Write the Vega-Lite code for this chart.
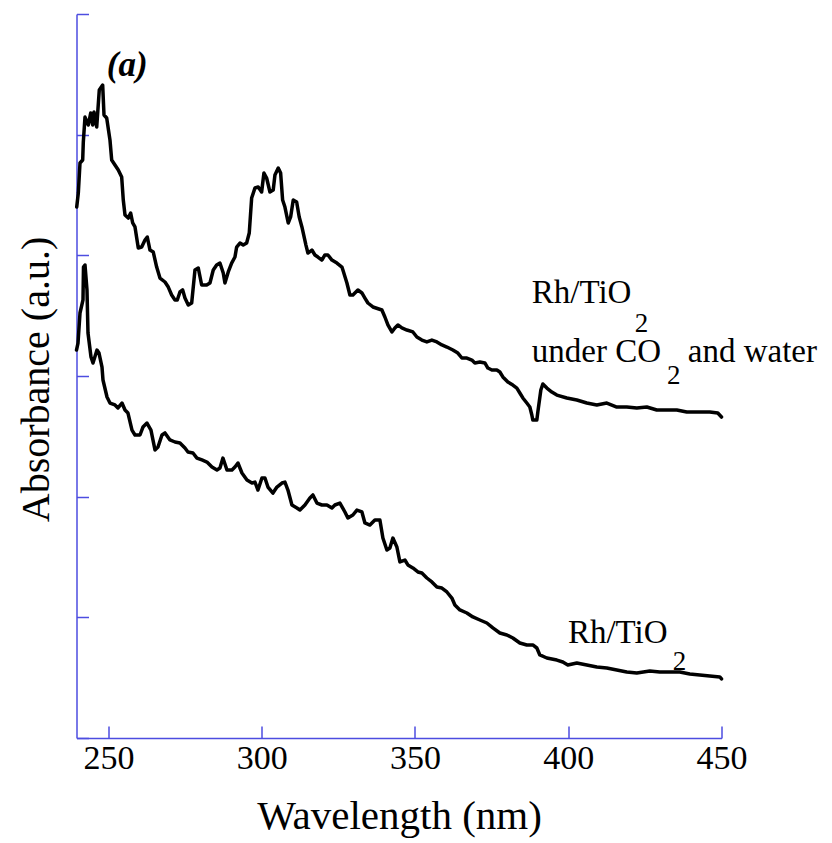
{
"$schema":"https://vega.github.io/schema/vega-lite/v6.json",
"autosize":{"type":"none"},
"width":645,"height":724,
"padding":{"left":76.5,"top":14,"right":110.5,"bottom":105},
"background":"white",
"config":{"view":{"stroke":null},"font":"Liberation Serif"},
"datasets":{
"curves":[
{"s":"co2","x":239.67,"y":4.400},{"s":"co2","x":240.19,"y":4.516},{"s":"co2","x":240.74,"y":4.765},{"s":"co2","x":241.62,"y":4.790},{"s":"co2","x":241.82,"y":4.939},{"s":"co2","x":242.37,"y":5.146},{"s":"co2","x":243.45,"y":5.080},{"s":"co2","x":244.23,"y":5.179},{"s":"co2","x":244.88,"y":5.080},{"s":"co2","x":245.31,"y":5.188},{"s":"co2","x":246.19,"y":5.063},{"s":"co2","x":247.03,"y":5.370},{"s":"co2","x":248.14,"y":5.411},{"s":"co2","x":248.57,"y":5.163},{"s":"co2","x":249.45,"y":5.138},{"s":"co2","x":250.52,"y":4.956},{"s":"co2","x":251.08,"y":4.790},{"s":"co2","x":252.15,"y":4.748},{"s":"co2","x":253.23,"y":4.707},{"s":"co2","x":254.34,"y":4.649},{"s":"co2","x":254.86,"y":4.458},{"s":"co2","x":255.42,"y":4.334},{"s":"co2","x":256.49,"y":4.309},{"s":"co2","x":257.27,"y":4.351},{"s":"co2","x":257.93,"y":4.268},{"s":"co2","x":258.68,"y":4.235},{"s":"co2","x":259.75,"y":4.061},{"s":"co2","x":260.86,"y":4.069},{"s":"co2","x":261.94,"y":4.127},{"s":"co2","x":262.69,"y":4.152},{"s":"co2","x":263.57,"y":4.044},{"s":"co2","x":264.64,"y":4.027},{"s":"co2","x":265.75,"y":3.903},{"s":"co2","x":266.83,"y":3.812},{"s":"co2","x":268.46,"y":3.779},{"s":"co2","x":269.54,"y":3.737},{"s":"co2","x":270.64,"y":3.671},{"s":"co2","x":271.72,"y":3.630},{"s":"co2","x":272.47,"y":3.630},{"s":"co2","x":273.35,"y":3.696},{"s":"co2","x":274.23,"y":3.713},{"s":"co2","x":274.98,"y":3.646},{"s":"co2","x":276.06,"y":3.588},{"s":"co2","x":277.17,"y":3.605},{"s":"co2","x":278.24,"y":3.878},{"s":"co2","x":279.32,"y":3.895},{"s":"co2","x":280.43,"y":3.754},{"s":"co2","x":282.06,"y":3.754},{"s":"co2","x":283.13,"y":3.771},{"s":"co2","x":284.21,"y":3.878},{"s":"co2","x":285.32,"y":3.920},{"s":"co2","x":286.39,"y":3.936},{"s":"co2","x":287.47,"y":3.853},{"s":"co2","x":288.02,"y":3.771},{"s":"co2","x":289.10,"y":3.862},{"s":"co2","x":290.21,"y":3.936},{"s":"co2","x":291.29,"y":3.986},{"s":"co2","x":291.84,"y":4.069},{"s":"co2","x":292.92,"y":4.102},{"s":"co2","x":293.99,"y":4.085},{"s":"co2","x":295.10,"y":4.102},{"s":"co2","x":295.95,"y":4.185},{"s":"co2","x":296.73,"y":4.475},{"s":"co2","x":297.81,"y":4.558},{"s":"co2","x":298.88,"y":4.566},{"s":"co2","x":299.99,"y":4.525},{"s":"co2","x":300.74,"y":4.682},{"s":"co2","x":301.62,"y":4.641},{"s":"co2","x":302.70,"y":4.525},{"s":"co2","x":303.77,"y":4.541},{"s":"co2","x":304.33,"y":4.666},{"s":"co2","x":305.41,"y":4.724},{"s":"co2","x":306.19,"y":4.682},{"s":"co2","x":306.84,"y":4.458},{"s":"co2","x":307.59,"y":4.400},{"s":"co2","x":308.67,"y":4.268},{"s":"co2","x":309.45,"y":4.318},{"s":"co2","x":310.30,"y":4.458},{"s":"co2","x":311.41,"y":4.442},{"s":"co2","x":312.25,"y":4.318},{"s":"co2","x":313.13,"y":4.235},{"s":"co2","x":314.44,"y":4.085},{"s":"co2","x":315.09,"y":4.019},{"s":"co2","x":316.39,"y":4.044},{"s":"co2","x":317.37,"y":4.003},{"s":"co2","x":318.35,"y":3.986},{"s":"co2","x":319.65,"y":3.961},{"s":"co2","x":320.63,"y":4.003},{"s":"co2","x":321.61,"y":4.003},{"s":"co2","x":322.92,"y":3.961},{"s":"co2","x":324.55,"y":3.936},{"s":"co2","x":326.18,"y":3.903},{"s":"co2","x":326.50,"y":3.878},{"s":"co2","x":327.81,"y":3.771},{"s":"co2","x":328.79,"y":3.671},{"s":"co2","x":329.76,"y":3.671},{"s":"co2","x":331.39,"y":3.713},{"s":"co2","x":332.70,"y":3.688},{"s":"co2","x":333.68,"y":3.646},{"s":"co2","x":334.66,"y":3.605},{"s":"co2","x":336.29,"y":3.572},{"s":"co2","x":339.22,"y":3.547},{"s":"co2","x":340.20,"y":3.489},{"s":"co2","x":341.18,"y":3.423},{"s":"co2","x":342.48,"y":3.365},{"s":"co2","x":343.46,"y":3.398},{"s":"co2","x":344.44,"y":3.423},{"s":"co2","x":345.74,"y":3.398},{"s":"co2","x":347.37,"y":3.381},{"s":"co2","x":349.33,"y":3.365},{"s":"co2","x":350.63,"y":3.323},{"s":"co2","x":352.26,"y":3.298},{"s":"co2","x":353.89,"y":3.282},{"s":"co2","x":355.52,"y":3.298},{"s":"co2","x":357.16,"y":3.282},{"s":"co2","x":358.79,"y":3.257},{"s":"co2","x":360.42,"y":3.240},{"s":"co2","x":362.37,"y":3.215},{"s":"co2","x":364.00,"y":3.190},{"s":"co2","x":365.31,"y":3.149},{"s":"co2","x":366.94,"y":3.149},{"s":"co2","x":368.57,"y":3.132},{"s":"co2","x":369.55,"y":3.108},{"s":"co2","x":371.18,"y":3.116},{"s":"co2","x":372.81,"y":3.108},{"s":"co2","x":373.79,"y":3.066},{"s":"co2","x":375.09,"y":3.050},{"s":"co2","x":376.72,"y":3.050},{"s":"co2","x":377.70,"y":3.033},{"s":"co2","x":378.68,"y":2.992},{"s":"co2","x":380.31,"y":2.950},{"s":"co2","x":381.94,"y":2.925},{"s":"co2","x":383.24,"y":2.900},{"s":"co2","x":384.22,"y":2.859},{"s":"co2","x":385.20,"y":2.818},{"s":"co2","x":386.50,"y":2.776},{"s":"co2","x":387.48,"y":2.743},{"s":"co2","x":388.13,"y":2.677},{"s":"co2","x":388.46,"y":2.635},{"s":"co2","x":389.76,"y":2.635},{"s":"co2","x":390.09,"y":2.702},{"s":"co2","x":391.07,"y":2.884},{"s":"co2","x":391.72,"y":2.934},{"s":"co2","x":393.03,"y":2.900},{"s":"co2","x":394.66,"y":2.867},{"s":"co2","x":396.29,"y":2.842},{"s":"co2","x":399.55,"y":2.818},{"s":"co2","x":402.81,"y":2.801},{"s":"co2","x":406.07,"y":2.776},{"s":"co2","x":409.33,"y":2.760},{"s":"co2","x":412.59,"y":2.776},{"s":"co2","x":415.85,"y":2.743},{"s":"co2","x":419.11,"y":2.743},{"s":"co2","x":422.37,"y":2.735},{"s":"co2","x":425.63,"y":2.743},{"s":"co2","x":428.90,"y":2.718},{"s":"co2","x":432.16,"y":2.718},{"s":"co2","x":435.42,"y":2.718},{"s":"co2","x":438.68,"y":2.702},{"s":"co2","x":442.92,"y":2.702},{"s":"co2","x":446.18,"y":2.702},{"s":"co2","x":448.79,"y":2.693},{"s":"co2","x":450.00,"y":2.660},
{"s":"bare","x":239.60,"y":3.215},{"s":"bare","x":240.09,"y":3.273},{"s":"bare","x":240.74,"y":3.522},{"s":"bare","x":241.72,"y":3.630},{"s":"bare","x":241.88,"y":3.903},{"s":"bare","x":242.37,"y":3.920},{"s":"bare","x":243.02,"y":3.713},{"s":"bare","x":243.35,"y":3.356},{"s":"bare","x":244.33,"y":3.157},{"s":"bare","x":244.98,"y":3.108},{"s":"bare","x":246.28,"y":3.215},{"s":"bare","x":246.94,"y":3.190},{"s":"bare","x":247.92,"y":3.074},{"s":"bare","x":248.24,"y":2.967},{"s":"bare","x":249.55,"y":2.826},{"s":"bare","x":250.52,"y":2.776},{"s":"bare","x":252.15,"y":2.760},{"s":"bare","x":253.13,"y":2.735},{"s":"bare","x":254.44,"y":2.776},{"s":"bare","x":255.42,"y":2.718},{"s":"bare","x":256.39,"y":2.693},{"s":"bare","x":257.70,"y":2.552},{"s":"bare","x":258.68,"y":2.511},{"s":"bare","x":260.31,"y":2.511},{"s":"bare","x":261.28,"y":2.577},{"s":"bare","x":262.59,"y":2.610},{"s":"bare","x":263.89,"y":2.552},{"s":"bare","x":265.20,"y":2.387},{"s":"bare","x":266.18,"y":2.411},{"s":"bare","x":267.48,"y":2.511},{"s":"bare","x":268.46,"y":2.528},{"s":"bare","x":270.09,"y":2.470},{"s":"bare","x":271.72,"y":2.453},{"s":"bare","x":273.35,"y":2.445},{"s":"bare","x":274.98,"y":2.403},{"s":"bare","x":275.96,"y":2.370},{"s":"bare","x":277.59,"y":2.362},{"s":"bare","x":278.89,"y":2.320},{"s":"bare","x":280.52,"y":2.304},{"s":"bare","x":282.15,"y":2.287},{"s":"bare","x":283.79,"y":2.246},{"s":"bare","x":285.42,"y":2.221},{"s":"bare","x":286.39,"y":2.237},{"s":"bare","x":287.37,"y":2.320},{"s":"bare","x":288.68,"y":2.221},{"s":"bare","x":290.31,"y":2.221},{"s":"bare","x":291.29,"y":2.246},{"s":"bare","x":292.26,"y":2.279},{"s":"bare","x":293.57,"y":2.196},{"s":"bare","x":295.20,"y":2.138},{"s":"bare","x":296.83,"y":2.113},{"s":"bare","x":297.81,"y":2.121},{"s":"bare","x":298.79,"y":2.055},{"s":"bare","x":300.09,"y":2.155},{"s":"bare","x":301.07,"y":2.155},{"s":"bare","x":302.05,"y":2.080},{"s":"bare","x":303.68,"y":2.030},{"s":"bare","x":304.98,"y":2.080},{"s":"bare","x":306.61,"y":2.113},{"s":"bare","x":307.59,"y":2.121},{"s":"bare","x":308.57,"y":2.055},{"s":"bare","x":309.87,"y":1.931},{"s":"bare","x":311.50,"y":1.906},{"s":"bare","x":312.48,"y":1.889},{"s":"bare","x":314.11,"y":1.931},{"s":"bare","x":315.74,"y":1.989},{"s":"bare","x":316.72,"y":2.014},{"s":"bare","x":318.02,"y":1.947},{"s":"bare","x":319.65,"y":1.931},{"s":"bare","x":321.29,"y":1.931},{"s":"bare","x":322.92,"y":1.906},{"s":"bare","x":323.89,"y":1.931},{"s":"bare","x":325.52,"y":1.947},{"s":"bare","x":327.16,"y":1.873},{"s":"bare","x":328.13,"y":1.823},{"s":"bare","x":329.76,"y":1.848},{"s":"bare","x":331.07,"y":1.889},{"s":"bare","x":332.70,"y":1.873},{"s":"bare","x":333.68,"y":1.782},{"s":"bare","x":335.31,"y":1.765},{"s":"bare","x":336.94,"y":1.807},{"s":"bare","x":338.57,"y":1.807},{"s":"bare","x":339.55,"y":1.657},{"s":"bare","x":340.85,"y":1.558},{"s":"bare","x":341.83,"y":1.575},{"s":"bare","x":342.81,"y":1.657},{"s":"bare","x":344.11,"y":1.583},{"s":"bare","x":345.09,"y":1.459},{"s":"bare","x":346.72,"y":1.475},{"s":"bare","x":347.70,"y":1.434},{"s":"bare","x":349.33,"y":1.409},{"s":"bare","x":350.96,"y":1.376},{"s":"bare","x":352.26,"y":1.367},{"s":"bare","x":353.89,"y":1.326},{"s":"bare","x":355.52,"y":1.293},{"s":"bare","x":357.16,"y":1.251},{"s":"bare","x":358.79,"y":1.243},{"s":"bare","x":360.42,"y":1.210},{"s":"bare","x":362.05,"y":1.160},{"s":"bare","x":363.03,"y":1.102},{"s":"bare","x":364.66,"y":1.061},{"s":"bare","x":366.94,"y":1.036},{"s":"bare","x":368.90,"y":1.003},{"s":"bare","x":371.18,"y":0.978},{"s":"bare","x":373.46,"y":0.953},{"s":"bare","x":375.42,"y":0.912},{"s":"bare","x":377.70,"y":0.870},{"s":"bare","x":379.98,"y":0.854},{"s":"bare","x":381.94,"y":0.829},{"s":"bare","x":384.22,"y":0.787},{"s":"bare","x":386.50,"y":0.771},{"s":"bare","x":388.46,"y":0.771},{"s":"bare","x":389.76,"y":0.746},{"s":"bare","x":390.74,"y":0.688},{"s":"bare","x":393.03,"y":0.663},{"s":"bare","x":396.29,"y":0.646},{"s":"bare","x":398.24,"y":0.630},{"s":"bare","x":399.87,"y":0.605},{"s":"bare","x":402.81,"y":0.622},{"s":"bare","x":406.07,"y":0.605},{"s":"bare","x":409.33,"y":0.588},{"s":"bare","x":412.59,"y":0.580},{"s":"bare","x":415.85,"y":0.564},{"s":"bare","x":419.11,"y":0.547},{"s":"bare","x":422.37,"y":0.539},{"s":"bare","x":426.61,"y":0.555},{"s":"bare","x":429.87,"y":0.547},{"s":"bare","x":433.13,"y":0.547},{"s":"bare","x":436.40,"y":0.547},{"s":"bare","x":439.66,"y":0.530},{"s":"bare","x":442.92,"y":0.522},{"s":"bare","x":446.18,"y":0.514},{"s":"bare","x":449.44,"y":0.506},{"s":"bare","x":450.00,"y":0.489}
]
},
"layer":[
{
"data":{"name":"curves"},
"mark":{"type":"line","color":"black","strokeWidth":3.5,"strokeJoin":"round","strokeCap":"round"},
"encoding":{
"x":{"field":"x","type":"quantitative","scale":{"domain":[239.6,450],"nice":false,"zero":false},
"axis":{"values":[250,300,350,400,450],"grid":false,"domainColor":"#4d4de0","domainWidth":1.5,"tickColor":"#4d4de0","tickWidth":1.5,"tickSize":-12,"labelFont":"Liberation Serif","labelFontSize":34,"labelColor":"black","labelPadding":15,"labelFlush":false,"title":"Wavelength (nm)","titleFont":"Liberation Serif","titleFontSize":41,"titleFontWeight":"normal","titleColor":"black","titleY":90,"titleBaseline":"alphabetic"}},
"y":{"field":"y","type":"quantitative","scale":{"domain":[0,6],"nice":false,"zero":false},
"axis":{"values":[0,1,2,3,4,5,6],"grid":false,"labels":false,"domainColor":"#4d4de0","domainWidth":1.5,"tickColor":"#4d4de0","tickWidth":1.5,"tickSize":-12,"title":"Absorbance (a.u.)","titleFont":"Liberation Serif","titleFontSize":40,"titleFontWeight":"normal","titleColor":"black","titleAngle":-90,"titleX":-28,"titleY":365,"titleAlign":"center","titleBaseline":"alphabetic"}},
"detail":{"field":"s","type":"nominal"}
}
},
{
"data":{"values":[{"x":249.5,"y":5.486,"t":"(a)"}]},
"mark":{"type":"text","align":"left","baseline":"alphabetic","font":"Liberation Serif","fontSize":35,"fontWeight":"bold","fontStyle":"italic","color":"black"},
"encoding":{"x":{"field":"x","type":"quantitative"},"y":{"field":"y","type":"quantitative"},"text":{"field":"t"}}
},
{
"data":{"values":[{"x":388.1,"y":3.605,"t":"Rh/TiO"},{"x":388.1,"y":3.116,"t":"under CO"},{"x":439.0,"y":3.116,"t":"and water"},{"x":399.9,"y":0.787,"t":"Rh/TiO"}]},
"mark":{"type":"text","align":"left","baseline":"alphabetic","font":"Liberation Serif","fontSize":33,"color":"black"},
"encoding":{"x":{"field":"x","type":"quantitative"},"y":{"field":"y","type":"quantitative"},"text":{"field":"t"}}
},
{
"data":{"values":[{"x":421.7,"y":3.365,"t":"2"},{"x":432.2,"y":2.934,"t":"2"},{"x":434.1,"y":0.564,"t":"2"}]},
"mark":{"type":"text","align":"left","baseline":"alphabetic","font":"Liberation Serif","fontSize":27,"color":"black"},
"encoding":{"x":{"field":"x","type":"quantitative"},"y":{"field":"y","type":"quantitative"},"text":{"field":"t"}}
}
]
}
